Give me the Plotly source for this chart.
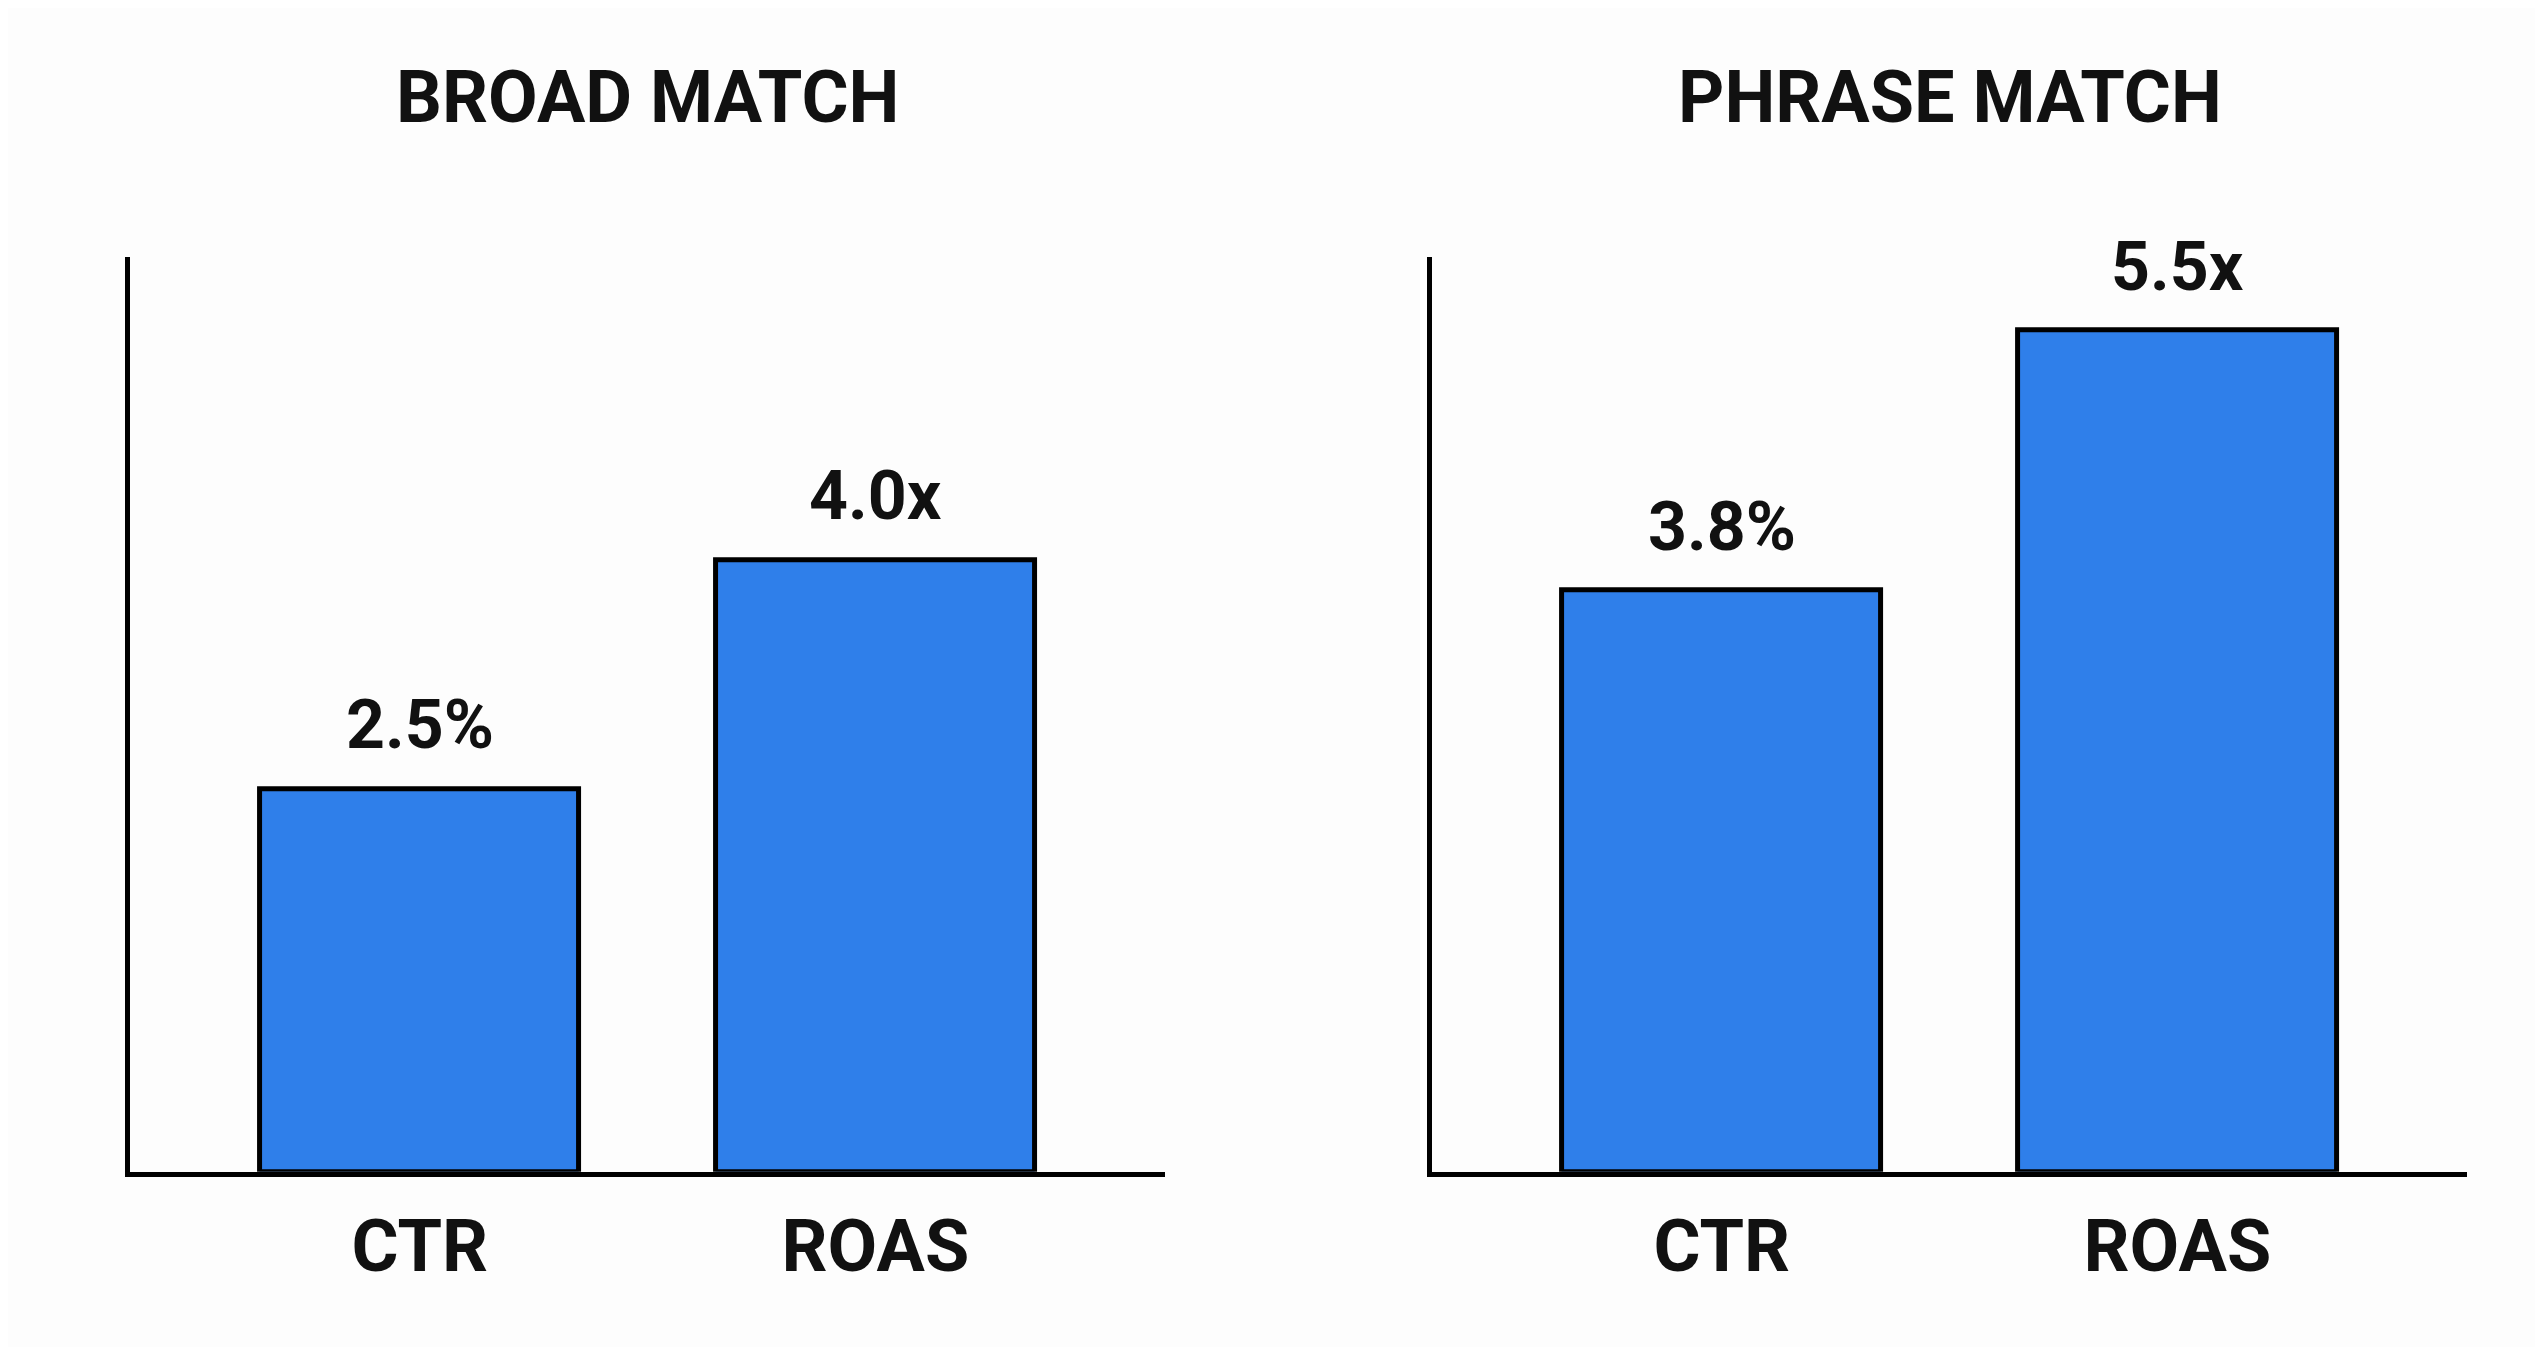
import plotly.graph_objects as go

panels = ["BROAD MATCH", "PHRASE MATCH"]
categories = ["CTR", "ROAS"]
broad_values = [2.5, 4.0]
phrase_values = [3.8, 5.5]
broad_labels = ["2.5%", "4.0x"]
phrase_labels = ["3.8%", "5.5x"]

BLUE = "#2F7FEA"
FONT = "Roboto"
fig = go.Figure()
doms = [[0.048, 0.455], [0.560, 0.967]]
data = [(broad_values, broad_labels), (phrase_values, phrase_labels)]
ann = []
for i, (vals, labs) in enumerate(data):
    xa = "x" if i == 0 else "x2"
    ya = "y" if i == 0 else "y2"
    fig.add_trace(go.Bar(x=[0, 1], y=vals, width=0.70, xaxis=xa, yaxis=ya,
                         marker=dict(color=BLUE, line=dict(color="black", width=5)),
                         showlegend=False, hoverinfo="skip"))
    for j, (v, l) in enumerate(zip(vals, labs)):
        ann.append(dict(x=j, y=v, xref=xa, yref=ya, text=f"<b>{l}</b>", showarrow=False,
                        yanchor="bottom", yshift=22, font=dict(size=68, color="#111", family=FONT)))
    ann.append(dict(x=sum(doms[i]) / 2, y=1 - 89 / 1347, xref="paper", yref="paper",
                    xanchor="center", yanchor="middle", text=f"<b>{panels[i]}</b>",
                    showarrow=False, font=dict(size=72, color="#111", family=FONT)))

axis_common = dict(range=[-0.636, 1.636], tickvals=[0, 1], ticktext=[f"<b>{c}</b>" for c in categories],
                   showline=True, linecolor="black", linewidth=5, showgrid=False, zeroline=False,
                   ticks="", ticklabelstandoff=8, tickfont=dict(size=72, color="#111", family=FONT))
yaxis_common = dict(range=[0, 5.98], domain=[0.136, 0.815], showline=True, linecolor="black", linewidth=5,
                    showgrid=False, zeroline=False, showticklabels=False, ticks="")
fig.update_layout(
    width=2543, height=1347, margin=dict(l=0, r=0, t=0, b=0),
    paper_bgcolor="#FDFDFD", plot_bgcolor="#FDFDFD",
    xaxis=dict(domain=doms[0], anchor="y", **axis_common),
    xaxis2=dict(domain=doms[1], anchor="y2", **axis_common),
    yaxis=dict(anchor="x", **yaxis_common),
    yaxis2=dict(anchor="x2", **yaxis_common),
    annotations=ann, bargap=0,
)
fig.write_html("out.html")
